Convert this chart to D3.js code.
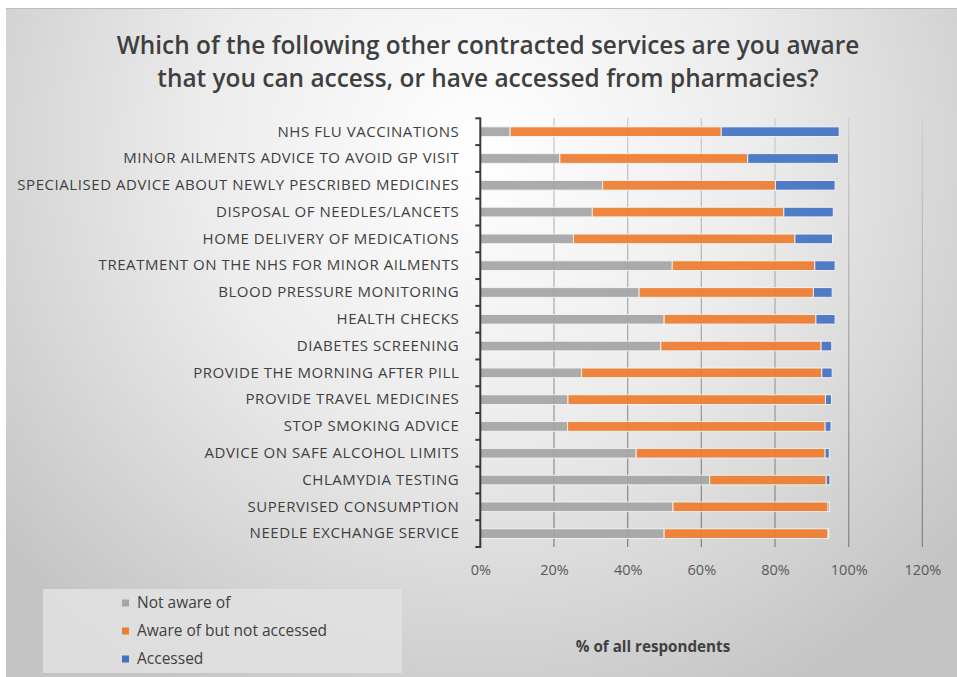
<!DOCTYPE html>
<html>
<head>
<meta charset="utf-8">
<script src="https://cdn.jsdelivr.net/npm/d3@7"></script>
<style>
  html, body { margin: 0; padding: 0; background: #ffffff; }
  svg { display: block; }
  text { font-family: "Open Sans", "Noto Sans", sans-serif; }
</style>
</head>
<body>
<svg id="chart" width="957" height="677"></svg>
<script>
// Services asked about, top to bottom
const categories = [
  "NHS FLU VACCINATIONS",
  "MINOR AILMENTS ADVICE TO AVOID GP VISIT",
  "SPECIALISED ADVICE ABOUT NEWLY PESCRIBED MEDICINES",
  "DISPOSAL OF NEEDLES/LANCETS",
  "HOME DELIVERY OF MEDICATIONS",
  "TREATMENT ON THE NHS FOR MINOR AILMENTS",
  "BLOOD PRESSURE MONITORING",
  "HEALTH CHECKS",
  "DIABETES SCREENING",
  "PROVIDE THE MORNING AFTER PILL",
  "PROVIDE TRAVEL MEDICINES",
  "STOP SMOKING ADVICE",
  "ADVICE ON SAFE ALCOHOL LIMITS",
  "CHLAMYDIA TESTING",
  "SUPERVISED CONSUMPTION",
  "NEEDLE EXCHANGE SERVICE"
];

// Share of all respondents (%) for each answer
const notAware = [8.1, 21.6, 33.2, 30.4, 25.3, 52.1, 43.1, 49.9, 49.0, 27.5, 23.8, 23.7, 42.3, 62.3, 52.3, 49.9];
const awareNotAccessed = [57.3, 51.0, 46.9, 52.0, 60.1, 38.7, 47.3, 41.2, 43.5, 65.2, 69.9, 69.9, 51.3, 31.6, 42.1, 44.5];
const accessed = [32.0, 24.6, 16.2, 13.4, 10.2, 5.5, 5.1, 5.2, 2.9, 2.8, 1.6, 1.6, 1.1, 1.0, 0.4, 0.2];

const seriesNames = ["Not aware of", "Aware of but not accessed", "Accessed"];
const seriesColors = ["#a5a5a5", "#ed7d31", "#4472c4"];
const xTicks = [0, 20, 40, 60, 80, 100, 120];
const xTitle = "% of all respondents";
const titleLines = [
  "Which of the following other contracted services are you aware",
  "that you can access, or have accessed from pharmacies?"
];

const svg = d3.select("#chart");
const W = 957, H = 677;

// Background: soft radial wash, white near the top centre fading to grey
const defs = svg.append("defs");
const bg = defs.append("radialGradient")
  .attr("id", "bgGrad")
  .attr("gradientUnits", "userSpaceOnUse")
  .attr("cx", 480).attr("cy", 150).attr("r", 620)
  .attr("fx", 480).attr("fy", 150);
bg.append("stop").attr("offset", "0%").attr("stop-color", "#ffffff");
bg.append("stop").attr("offset", "45%").attr("stop-color", "#ececec");
bg.append("stop").attr("offset", "100%").attr("stop-color", "#c4c4c4");

const grid = defs.append("linearGradient")
  .attr("id", "gridGrad")
  .attr("gradientUnits", "userSpaceOnUse")
  .attr("x1", 0).attr("y1", 118).attr("x2", 0).attr("y2", 547);
grid.append("stop").attr("offset", "0%").attr("stop-color", "#cfcfcf");
grid.append("stop").attr("offset", "100%").attr("stop-color", "#858585");

svg.append("rect")
  .attr("x", 6).attr("y", 8).attr("width", W - 6).attr("height", H - 8)
  .attr("fill", "url(#bgGrad)");
svg.append("line")
  .attr("x1", 6).attr("x2", W).attr("y1", 8.5).attr("y2", 8.5)
  .attr("stroke", "#bdbdbd").attr("stroke-width", 1);

// Title
svg.append("g").selectAll("text")
  .data(titleLines)
  .join("text")
  .attr("x", 488)
  .attr("y", (d, i) => 54 + i * 33)
  .attr("text-anchor", "middle")
  .attr("font-size", 24.4)
  .attr("font-weight", 600)
  .attr("fill", "#3f3f3f")
  .text(d => d);

// Scales
const x = d3.scaleLinear().domain([0, 120]).range([480.3, 922.4]);
const y = d3.scaleBand().domain(categories).range([118.3, 547]).paddingInner(0.64).paddingOuter(0.32);

// Vertical gridlines
svg.append("g").selectAll("line")
  .data(xTicks.filter(t => t > 0))
  .join("line")
  .attr("x1", d => x(d)).attr("x2", d => x(d))
  .attr("y1", 118).attr("y2", 547)
  .attr("stroke", "url(#gridGrad)")
  .attr("stroke-width", 1.3);

// Stacked bars
const rows = categories.map((c, i) => ({
  cat: c, notAware: notAware[i], awareNotAccessed: awareNotAccessed[i], accessed: accessed[i]
}));
const stack = d3.stack().keys(["notAware", "awareNotAccessed", "accessed"]);
const layers = stack(rows);

svg.append("g").selectAll("g")
  .data(layers)
  .join("g")
  .attr("fill", (d, i) => seriesColors[i])
  .selectAll("rect")
  .data(d => d)
  .join("rect")
  .attr("x", d => x(d[0]))
  .attr("width", d => Math.max(0, x(d[1]) - x(d[0])))
  .attr("y", d => y(d.data.cat))
  .attr("height", y.bandwidth())
  .attr("stroke", "#f4f4f4")
  .attr("stroke-width", 0.9)
  .attr("fill-opacity", 0.93);

// Category axis
const yAxis = d3.axisLeft(y).tickSize(0).tickPadding(21);
const ya = svg.append("g").attr("transform", `translate(${x(0)},0)`).call(yAxis);
ya.select(".domain").remove();
ya.selectAll("text")
  .attr("font-size", 15)
  .attr("letter-spacing", "0.55px")
  .attr("fill", "#404040")
  .style("font-family", "'Open Sans', sans-serif");

// Axis line with boundary ticks between categories
const boundaries = d3.range(categories.length + 1).map(i => 118.3 + i * y.step());
svg.append("line")
  .attr("x1", x(0)).attr("x2", x(0)).attr("y1", 117.5).attr("y2", 548)
  .attr("stroke", "#3a3a3a").attr("stroke-width", 2);
svg.append("g").selectAll("line")
  .data(boundaries)
  .join("line")
  .attr("x1", x(0) - 5).attr("x2", x(0))
  .attr("y1", d => d).attr("y2", d => d)
  .attr("stroke", "#3a3a3a").attr("stroke-width", 2);

// Value axis labels
const xAxis = d3.axisBottom(x).tickValues(xTicks).tickFormat(d => d + "%").tickSize(0).tickPadding(0);
const xa = svg.append("g").attr("transform", "translate(0,565)").call(xAxis);
xa.select(".domain").remove();
xa.selectAll("text")
  .attr("font-size", 14.5)
  .attr("fill", "#595959")
  .attr("dy", "0.71em")
  .attr("y", 0)
  .style("font-family", "'Open Sans', sans-serif");

// Axis title
svg.append("text")
  .attr("x", 653).attr("y", 652)
  .attr("text-anchor", "middle")
  .attr("font-size", 15.2)
  .attr("font-weight", 700)
  .attr("fill", "#404040")
  .text(xTitle);

// Legend
const lg = svg.append("g");
lg.append("rect")
  .attr("x", 43).attr("y", 589).attr("width", 359).attr("height", 84)
  .attr("fill", "#e2e2e2").attr("fill-opacity", 0.85);
const items = lg.selectAll("g.item")
  .data(seriesNames)
  .join("g")
  .attr("class", "item")
  .attr("transform", (d, i) => `translate(122,${603 + i * 28})`);
items.append("rect")
  .attr("x", 0).attr("y", -3.5).attr("width", 7).attr("height", 7)
  .attr("fill", (d, i) => seriesColors[i]);
items.append("text")
  .attr("x", 15).attr("y", 0).attr("dy", "0.35em")
  .attr("font-size", 15.5)
  .attr("fill", "#404040")
  .text(d => d);
</script>
</body>
</html>
